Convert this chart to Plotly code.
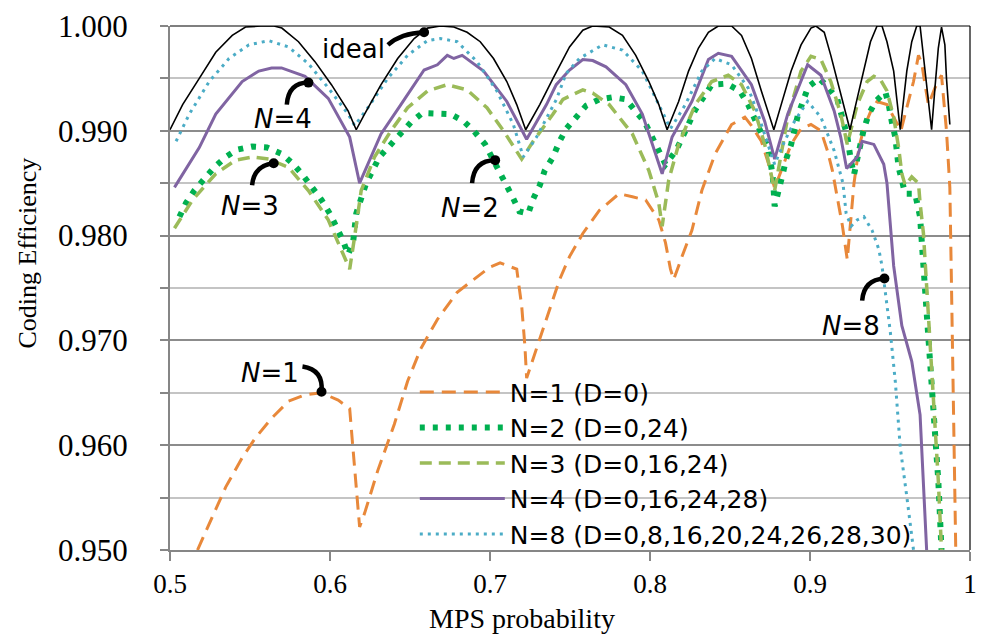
import plotly.graph_objects as go

# ---------------- data ----------------
x_ticks = [0.5, 0.6, 0.7, 0.8, 0.9, 1.0]
x_tick_labels = ["0.5", "0.6", "0.7", "0.8", "0.9", "1"]
y_ticks = [0.95, 0.96, 0.97, 0.98, 0.99, 1.0]
y_tick_labels = ["0.950", "0.960", "0.970", "0.980", "0.990", "1.000"]

ideal_x = [0.5000, 0.5079, 0.5183, 0.5286, 0.5389, 0.5472, 0.5567, 0.5650, 0.5699, 0.5803, 0.5906, 0.6009, 0.6113, 0.6164,
           0.6216, 0.6319, 0.6423, 0.6526, 0.6609, 0.6690, 0.6774, 0.6857, 0.6939, 0.7022, 0.7105, 0.7167, 0.7223,
           0.7311, 0.7394, 0.7497, 0.7580, 0.7642, 0.7745, 0.7828, 0.7911, 0.7993, 0.8055, 0.8107,
           0.8179, 0.8241, 0.8303, 0.8365, 0.8427, 0.8510, 0.8572, 0.8634, 0.8696, 0.8748, 0.8774,
           0.8820, 0.8882, 0.8944, 0.9006, 0.9037, 0.9089, 0.9130, 0.9192, 0.9250,
           0.9295, 0.9337, 0.9378, 0.9419, 0.9450, 0.9481, 0.9523, 0.9564,
           0.9605, 0.9636, 0.9667, 0.9688, 0.9709, 0.9740, 0.9760,
           0.9781, 0.9802, 0.9822, 0.9843, 0.9853, 0.9874]
ideal_y = [0.9901, 0.9925, 0.9950, 0.9975, 0.9991, 0.9999, 1.0000, 1.0000, 0.9998, 0.9985, 0.9966, 0.9944, 0.9919, 0.9901,
           0.9916, 0.9944, 0.9969, 0.9988, 0.9998, 1.0000, 0.9999, 0.9994, 0.9985, 0.9969, 0.9947, 0.9925, 0.9901,
           0.9925, 0.9950, 0.9980, 0.9996, 1.0000, 0.9999, 0.9991, 0.9972, 0.9947, 0.9925, 0.9901,
           0.9928, 0.9957, 0.9979, 0.9994, 1.0000, 1.0000, 0.9991, 0.9969, 0.9938, 0.9913, 0.9901,
           0.9925, 0.9957, 0.9982, 0.9998, 1.0000, 0.9994, 0.9972, 0.9935, 0.9901,
           0.9931, 0.9960, 0.9985, 1.0000, 1.0000, 0.9985, 0.9957, 0.9901,
           0.9957, 0.9985, 1.0000, 1.0000, 0.9972, 0.9931, 0.9901,
           0.9941, 0.9979, 0.9999, 0.9982, 0.9950, 0.9906]

n1_x = [0.5172, 0.5245, 0.5348, 0.5451, 0.5534, 0.5637, 0.5741, 0.5844, 0.5947, 0.6051, 0.6123, 0.6138, 0.6164, 0.6185,
        0.6216, 0.6299, 0.6402, 0.6485, 0.6567, 0.6671, 0.6795, 0.6898, 0.7000, 0.7063, 0.7167, 0.7198, 0.7218, 0.7229,
        0.7270, 0.7353, 0.7435, 0.7497, 0.7580, 0.7683, 0.7807, 0.7890, 0.7973, 0.8055, 0.8097, 0.8128, 0.8148,
        0.8200, 0.8262, 0.8324, 0.8407, 0.8510, 0.8593, 0.8634, 0.8696, 0.8738, 0.8779,
        0.8820, 0.8882, 0.8944, 0.9006, 0.9068, 0.9109, 0.9140, 0.9171, 0.9202, 0.9233,
        0.9275, 0.9306, 0.9337, 0.9378, 0.9419, 0.9481, 0.9533, 0.9568,
        0.9605, 0.9647, 0.9678, 0.9698, 0.9719, 0.9740, 0.9781, 0.9822,
        0.9853, 0.9874, 0.9884, 0.9894, 0.9905, 0.9911]
n1_y = [0.9500, 0.9525, 0.9560, 0.9588, 0.9607, 0.9626, 0.9642, 0.9648, 0.9650, 0.9643, 0.9635, 0.9607, 0.9557, 0.9522,
        0.9535, 0.9576, 0.9620, 0.9661, 0.9692, 0.9720, 0.9746, 0.9758, 0.9770, 0.9774, 0.9768, 0.9733, 0.9695, 0.9664,
        0.9683, 0.9720, 0.9758, 0.9780, 0.9802, 0.9824, 0.9840, 0.9837, 0.9834, 0.9815, 0.9793, 0.9768, 0.9758,
        0.9780, 0.9805, 0.9843, 0.9878, 0.9906, 0.9913, 0.9905, 0.9890, 0.9870, 0.9845,
        0.9862, 0.9887, 0.9902, 0.9906, 0.9900, 0.9881, 0.9862, 0.9837, 0.9810, 0.9777,
        0.9850, 0.9884, 0.9903, 0.9918, 0.9928, 0.9925, 0.9910, 0.9900,
        0.9922, 0.9947, 0.9972, 0.9965, 0.9944, 0.9925, 0.9941, 0.9953,
        0.9900, 0.9846, 0.9755, 0.9661, 0.9566, 0.9500]

n2_x = [0.5059, 0.5100, 0.5152, 0.5214, 0.5276, 0.5348, 0.5420, 0.5513, 0.5606, 0.5699, 0.5772, 0.5834, 0.5896, 0.5947,
        0.5999, 0.6040, 0.6082, 0.6113, 0.6144, 0.6164, 0.6226, 0.6309, 0.6371, 0.6433, 0.6505, 0.6578, 0.6671, 0.6753,
        0.6836, 0.6898, 0.6970, 0.7030, 0.7090, 0.7140, 0.7184, 0.7239, 0.7270, 0.7311, 0.7342, 0.7394, 0.7435, 0.7477,
        0.7539, 0.7601, 0.7683, 0.7766, 0.7849, 0.7911, 0.7968, 0.8055, 0.8097, 0.8163, 0.8200, 0.8241, 0.8283, 0.8386,
        0.8479, 0.8562, 0.8613, 0.8655, 0.8696, 0.8738, 0.8754, 0.8769, 0.8779, 0.8810, 0.8830, 0.8851, 0.8882, 0.8923,
        0.8954, 0.8989, 0.9058, 0.9110, 0.9171, 0.9202, 0.9233, 0.9255, 0.9275, 0.9295, 0.9337, 0.9368, 0.9409, 0.9471,
        0.9492, 0.9512, 0.9533, 0.9554, 0.9574, 0.9595, 0.9657, 0.9688, 0.9709, 0.9740, 0.9771, 0.9802, 0.9822]
n2_y = [0.9818, 0.9831, 0.9843, 0.9854, 0.9865, 0.9875, 0.9882, 0.9885, 0.9884, 0.9878, 0.9868, 0.9857, 0.9845, 0.9834,
        0.9821, 0.9809, 0.9795, 0.9782, 0.9793, 0.9821, 0.9850, 0.9875, 0.9886, 0.9897, 0.9908, 0.9917, 0.9917, 0.9916,
        0.9909, 0.9900, 0.9887, 0.9870, 0.9852, 0.9837, 0.9823, 0.9821, 0.9835, 0.9848, 0.9862, 0.9875, 0.9890, 0.9902,
        0.9913, 0.9924, 0.9930, 0.9932, 0.9930, 0.9919, 0.9908, 0.9881, 0.9868, 0.9881, 0.9894, 0.9908, 0.9920, 0.9944,
        0.9945, 0.9938, 0.9925, 0.9911, 0.9897, 0.9884, 0.9870, 0.9854, 0.9828, 0.9845, 0.9859, 0.9873, 0.9887, 0.9914,
        0.9928, 0.9942, 0.9950, 0.9942, 0.9930, 0.9913, 0.9895, 0.9872, 0.9858, 0.9873, 0.9902, 0.9916, 0.9928, 0.9937,
        0.9925, 0.9908, 0.9894, 0.9865, 0.9850, 0.9840, 0.9840, 0.9818, 0.9771, 0.9708, 0.9645, 0.9566, 0.9500]

n3_x = [0.5028, 0.5141, 0.5286, 0.5410, 0.5513, 0.5617, 0.5741, 0.5865, 0.5989, 0.6071, 0.6123, 0.6154, 0.6195, 0.6278,
        0.6381, 0.6485, 0.6609, 0.6733, 0.6857, 0.6981, 0.7084, 0.7198, 0.7270, 0.7394, 0.7456, 0.7580, 0.7642, 0.7745,
        0.7890, 0.7993, 0.8055, 0.8076, 0.8117, 0.8179, 0.8283, 0.8386, 0.8489, 0.8572, 0.8655, 0.8717, 0.8758, 0.8779,
        0.8861, 0.8944, 0.9006, 0.9068, 0.9130, 0.9192, 0.9233, 0.9295, 0.9357, 0.9399, 0.9440, 0.9481, 0.9523, 0.9554,
        0.9574, 0.9595, 0.9636, 0.9678, 0.9688, 0.9709, 0.9740, 0.9771, 0.9802, 0.9822]
n3_y = [0.9807, 0.9834, 0.9859, 0.9872, 0.9875, 0.9873, 0.9865, 0.9843, 0.9815, 0.9787, 0.9768, 0.9799, 0.9843, 0.9875,
        0.9900, 0.9922, 0.9938, 0.9944, 0.9939, 0.9922, 0.9900, 0.9873, 0.9890, 0.9916, 0.9930, 0.9939, 0.9936, 0.9925,
        0.9897, 0.9862, 0.9831, 0.9809, 0.9853, 0.9887, 0.9925, 0.9947, 0.9953, 0.9944, 0.9919, 0.9887, 0.9856, 0.9843,
        0.9913, 0.9957, 0.9971, 0.9968, 0.9947, 0.9916, 0.9887, 0.9925, 0.9947, 0.9952, 0.9949, 0.9938, 0.9913, 0.9884,
        0.9859, 0.9848, 0.9856, 0.9850, 0.9831, 0.9802, 0.9724, 0.9648, 0.9566, 0.9500]

n4_x = [0.5028, 0.5183, 0.5286, 0.5451, 0.5555, 0.5635, 0.5697, 0.5844, 0.5989, 0.6123, 0.6185, 0.6319, 0.6443, 0.6588,
        0.6671, 0.6733, 0.6774, 0.6826, 0.6960, 0.7105, 0.7229, 0.7353, 0.7414, 0.7497, 0.7580, 0.7642, 0.7725, 0.7849,
        0.7952, 0.8076, 0.8138, 0.8262, 0.8365, 0.8427, 0.8510, 0.8634, 0.8717, 0.8779, 0.8861, 0.8985, 0.9068, 0.9151,
        0.9192, 0.9229, 0.9295, 0.9326, 0.9399, 0.9461, 0.9481, 0.9523, 0.9574, 0.9636, 0.9688, 0.9709, 0.9729]
n4_y = [0.9846, 0.9884, 0.9916, 0.9947, 0.9957, 0.9960, 0.9960, 0.9952, 0.9931, 0.9894, 0.9850, 0.9897, 0.9925, 0.9958,
        0.9963, 0.9972, 0.9969, 0.9972, 0.9957, 0.9928, 0.9892, 0.9925, 0.9944, 0.9958, 0.9968, 0.9967, 0.9961, 0.9944,
        0.9916, 0.9859, 0.9894, 0.9928, 0.9968, 0.9974, 0.9971, 0.9944, 0.9909, 0.9873, 0.9916, 0.9963, 0.9953, 0.9919,
        0.9894, 0.9864, 0.9875, 0.9890, 0.9887, 0.9868, 0.9850, 0.9771, 0.9714, 0.9680, 0.9629, 0.9566, 0.9500]

n8_x = [0.5038, 0.5121, 0.5245, 0.5369, 0.5493, 0.5617, 0.5741, 0.5865, 0.5989, 0.6113, 0.6154, 0.6237, 0.6361, 0.6485,
        0.6609, 0.6691, 0.6795, 0.6919, 0.7043, 0.7146, 0.7208, 0.7291, 0.7415, 0.7477, 0.7559, 0.7704, 0.7828, 0.7952,
        0.8055, 0.8128, 0.8221, 0.8324, 0.8407, 0.8510, 0.8613, 0.8675, 0.8737, 0.8779, 0.8841, 0.8903, 0.8985, 0.9068,
        0.9151, 0.9206, 0.9226, 0.9257, 0.9295, 0.9337, 0.9388, 0.9430, 0.9450, 0.9471, 0.9502, 0.9533, 0.9564, 0.9605,
        0.9647]
n8_y = [0.9890, 0.9916, 0.9947, 0.9969, 0.9982, 0.9986, 0.9980, 0.9964, 0.9941, 0.9916, 0.9905, 0.9922, 0.9950, 0.9972,
        0.9986, 0.9988, 0.9985, 0.9966, 0.9938, 0.9906, 0.9875, 0.9894, 0.9930, 0.9955, 0.9969, 0.9982, 0.9977, 0.9957,
        0.9925, 0.9902, 0.9925, 0.9957, 0.9969, 0.9963, 0.9941, 0.9916, 0.9887, 0.9868, 0.9890, 0.9909, 0.9928, 0.9913,
        0.9881, 0.9850, 0.9821, 0.9809, 0.9815, 0.9818, 0.9805, 0.9787, 0.9771, 0.9746, 0.9708, 0.9661, 0.9598, 0.9551,
        0.9500]

series_names = ["N=1 (D=0)", "N=2 (D=0,24)", "N=3 (D=0,16,24)", "N=4 (D=0,16,24,28)",
                "N=8 (D=0,8,16,20,24,26,28,30)"]

# callout labels: text, text position, curve start, control, end (dot)
callouts = [
    ("ideal", (0.6149, 0.99780), (0.6362, 0.99820), (0.6443, 0.99930), (0.6588, 0.99940)),
    ("<i>N</i>=4", (0.5704, 0.99114), (0.5730, 0.99250), (0.5741, 0.99460), (0.5865, 0.99460)),
    ("<i>N</i>=3", (0.5503, 0.98283), (0.5513, 0.98480), (0.5524, 0.98670), (0.5648, 0.98690)),
    ("<i>N</i>=2", (0.6877, 0.98260), (0.6888, 0.98500), (0.6898, 0.98720), (0.7032, 0.98720)),
    ("<i>N</i>=1", (0.5627, 0.96686), (0.5828, 0.96750), (0.5960, 0.96720), (0.5947, 0.96510)),
    ("<i>N</i>=8", (0.9254, 0.97136), (0.9326, 0.97380), (0.9337, 0.97580), (0.9465, 0.97590)),
]

# ---------------- figure ----------------
SANS = "DejaVu Sans"
SERIF = "Liberation Serif"

fig = go.Figure()

styles = [
    (n1_x, n1_y, "#E8883A", 3.0, "14px,8px"),
    (n2_x, n2_y, "#00B050", 6.0, "5px,8px"),
    (n3_x, n3_y, "#9BBB59", 3.5, "12px,7px"),
    (n4_x, n4_y, "#8064A2", 3.0, "solid"),
    (n8_x, n8_y, "#4BACC6", 3.0, "3px,5px"),
]
for (xs, ys, col, w, dash), name in zip(styles, series_names):
    fig.add_trace(go.Scatter(x=xs, y=ys, mode="lines", name=name,
                             line=dict(color=col, width=w, dash=dash)))

fig.add_trace(go.Scatter(x=ideal_x, y=ideal_y, mode="lines", name="ideal", showlegend=False,
                         line=dict(color="black", width=1.6)))

shapes = []
annotations = []
for text, tpos, p0, pc, p1 in callouts:
    shapes.append(dict(type="path", xref="x", yref="y",
                       path=f"M {p0[0]},{p0[1]} Q {pc[0]},{pc[1]} {p1[0]},{p1[1]}",
                       line=dict(color="black", width=4.5)))
    shapes.append(dict(type="circle", xref="x", yref="y", xsizemode="pixel", ysizemode="pixel",
                       xanchor=p1[0], yanchor=p1[1], x0=-5, x1=5, y0=-5, y1=5,
                       fillcolor="black", line=dict(color="black", width=0)))
    annotations.append(dict(x=tpos[0], y=tpos[1], xref="x", yref="y", text=text, showarrow=False,
                            font=dict(family=SANS, size=26, color="black"),
                            xanchor="center", yanchor="middle"))

# plot-area border (top and right, black)
shapes.append(dict(type="line", xref="paper", yref="paper", x0=0, x1=1, y0=1, y1=1,
                   line=dict(color="black", width=1.2)))
shapes.append(dict(type="line", xref="paper", yref="paper", x0=1, x1=1, y0=0, y1=1,
                   line=dict(color="black", width=1.2)))

annotations.append(dict(x=-0.178, y=0.567, xref="paper", yref="paper", text="Coding Efficiency",
                        textangle=-90, showarrow=False, xanchor="center", yanchor="middle",
                        font=dict(family=SERIF, size=26, color="black")))
annotations.append(dict(x=0.44, y=-0.13, xref="paper", yref="paper", text="MPS probability",
                        showarrow=False, xanchor="center", yanchor="middle",
                        font=dict(family=SERIF, size=28, color="black")))

fig.update_layout(
    width=986, height=637,
    margin=dict(l=170, r=9, t=21, b=87),
    paper_bgcolor="white", plot_bgcolor="white",
    shapes=shapes, annotations=annotations,
    legend=dict(x=0.306, y=0.345, xanchor="left", yanchor="top",
                bgcolor="rgba(0,0,0,0)", borderwidth=0,
                font=dict(family=SANS, size=25, color="black"),
                itemwidth=85, tracegroupgap=0),
    xaxis=dict(range=[0.5, 1.0], tickvals=x_ticks, ticktext=x_tick_labels,
               showgrid=False, zeroline=False, showline=True, linecolor="#868686", linewidth=2,
               ticks="outside", ticklen=9, tickwidth=2, tickcolor="#868686",
               tickfont=dict(family=SERIF, size=27, color="black")),
    yaxis=dict(range=[0.95, 1.0], tickvals=y_ticks, ticktext=y_tick_labels,
               showgrid=True, gridcolor="#8c8c8c", gridwidth=2,
               zeroline=False, showline=True, linecolor="#868686", linewidth=2,
               ticks="outside", ticklen=8, tickwidth=2, tickcolor="#868686",
               ticklabelstandoff=26,
               tickfont=dict(family=SERIF, size=31, color="black"),
               minor=dict(dtick=0.005, tick0=0.95, showgrid=True, gridcolor="#c4c4c4", gridwidth=2,
                          ticks="outside", ticklen=8, tickwidth=2, tickcolor="#868686")),
)

fig.write_html("out.html")
